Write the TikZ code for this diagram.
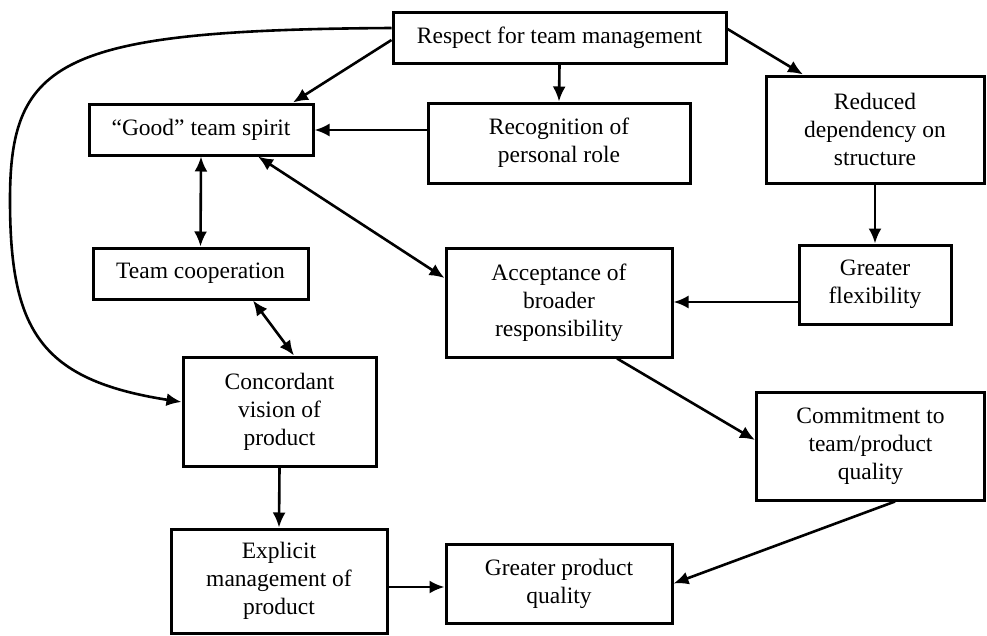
\documentclass[tikz,border=0pt]{standalone}
\usepackage{fontspec}
\setmainfont{Liberation Serif}
\usetikzlibrary{arrows.meta}
\begin{document}
\begin{tikzpicture}[x=1pt,y=-1pt,
  box/.style={draw,line width=3pt,align=center,inner sep=0pt,
    font=\fontsize{23.5pt}{28pt}\selectfont},
  tip/.tip={Latex[length=15pt,width=13pt]},
  conn/.style={line width=2.6pt,-tip},
  conn2/.style={line width=2.6pt,tip-tip}]
\useasboundingbox (0,0) rectangle (987,635);
\node[box,minimum width=333pt,minimum height=51pt] (resp) at (559.5,37.5) {Respect for team management};
\node[box,minimum width=224pt,minimum height=51pt] (good) at (201,129.5) {``Good'' team spirit};
\node[box,minimum width=262pt,minimum height=80pt] (recog) at (559,143) {Recognition of\\personal role};
\node[box,minimum width=218pt,minimum height=107pt] (red) at (875,129.5) {Reduced\\dependency on\\structure};
\node[box,minimum width=215pt,minimum height=51pt] (coop) at (200.5,273.5) {Team cooperation};
\node[box,minimum width=226pt,minimum height=109pt] (acc) at (559,302.5) {Acceptance of\\broader\\responsibility};
\node[box,minimum width=152pt,minimum height=79pt] (flex) at (875,284.5) {Greater\\flexibility};
\node[box,minimum width=193pt,minimum height=109pt] (conc) at (279.5,411.5) {Concordant\\vision of\\product};
\node[box,minimum width=216pt,minimum height=104pt] (expl) at (279,581) {Explicit\\management of\\product};
\node[box,minimum width=226pt,minimum height=79pt] (gpq) at (559,583.5) {Greater product\\quality};
\node[box,minimum width=228pt,minimum height=108pt] (comm) at (870.5,446) {Commitment to\\team/product\\quality};

\draw[conn] ([yshift=-2.5pt]resp.west) -- ([xshift=92pt]good.north);
\draw[conn] (resp.south) -- (recog.north);
\draw[conn] ([yshift=8.5pt]resp.east) -- ([xshift=-72pt]red.north);
\draw[conn] ([yshift=13pt]recog.west) coordinate (r1) -- (good.east |- r1);
\draw[conn2] (good.south) -- (coop.north);
\draw[conn2] ([xshift=57pt]good.south) -- ([yshift=24.5pt]acc.west);
\draw[conn] (red.south) -- (flex.north);
\draw[conn] ([yshift=-17.5pt]flex.west) coordinate (f1) -- (acc.east |- f1);
\draw[conn2] ([xshift=52.5pt]coop.south) -- ([xshift=14.5pt]conc.north);
\draw[conn] ([yshift=9.5pt]resp.west) .. controls (60,30) and (10,60) .. (10,200)
  .. controls (10,330) and (40,380) .. ([yshift=9.5pt]conc.west);
\draw[conn] (conc.south) -- (expl.north);
\draw[conn] ([yshift=-6pt]expl.east) coordinate (e1) -- (gpq.west |- e1);
\draw[conn] ([xshift=58pt]acc.south) -- ([yshift=6pt]comm.west);
\draw[conn] ([xshift=24.5pt]comm.south) -- (gpq.east);
\end{tikzpicture}
\end{document}
